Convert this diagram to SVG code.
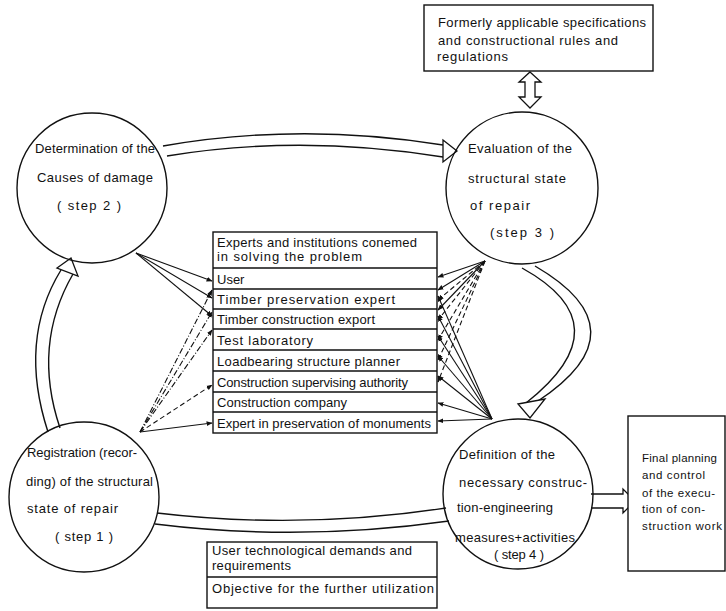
<svg xmlns="http://www.w3.org/2000/svg" width="726" height="611" viewBox="0 0 726 611">
<defs>
<style>
text{font-family:"Liberation Sans",Arial,sans-serif;font-size:13px;fill:#111}
.sm{font-size:11.5px}
.node{fill:none;stroke:#111;stroke-width:1.4}
.box{fill:#fff;stroke:#111;stroke-width:1.4}
.band{fill:none;stroke:#111;stroke-width:1.4}
.head{fill:#fff;stroke:#111;stroke-width:1.3;stroke-linejoin:miter}
.c{fill:none;stroke:#111;stroke-width:1.1}
.dash{stroke-dasharray:5 3}
.dd{stroke-dasharray:6 2 1 2}
</style>
<marker id="ah" viewBox="0 0 10 10" refX="9" refY="5" markerWidth="6" markerHeight="6" orient="auto" markerUnits="userSpaceOnUse">
<path d="M0,1 L10,5 L0,9 Z" fill="#111"/>
</marker>
</defs>
<rect width="726" height="611" fill="#fff"/>

<g id="connectors">
<!-- step2 -> step3 wide arrow -->
<path class="band" d="M163,146 Q300,122 443,145"/>
<path class="band" d="M167,156 Q300,134 443,157"/>
<polygon class="head" points="443,140 457,151 443,162"/>
<!-- step1 -> step2 wide arrow -->
<path class="band" d="M48,432 Q18,340 61,270"/>
<path class="band" d="M60,428 Q32,345 73,274"/>
<polygon class="head" points="57,268 71,258 78,276"/>
<!-- step3 -> step4 wide arrow -->
<path class="band" d="M522,268 Q625,325 526,403"/>
<path class="band" d="M535,266 Q645,330 538,401"/>
<polygon class="head" points="518,404 545,399 530,418"/>
<!-- step1 - step4 bottom band -->
<path class="band" d="M157,513 Q300,530 446,508"/>
<path class="band" d="M155,524 Q300,542 449,521"/>
<!-- step4 -> final planning -->
<path class="head" d="M591,494 L623,494 L623,489 L635,501 L623,513 L623,508 L591,508"/>
<!-- double arrow top box <-> step3 -->
<path class="head" d="M530,72 L541,82 L535,82 L535,97 L541,97 L530,108 L519,97 L525,97 L525,82 L519,82 Z"/>

<!-- step2 -> table -->
<g class="c" marker-end="url(#ah)">
<path d="M136,253 L212,281"/>
<path d="M136,253 L212,298"/>
<path d="M136,253 L212,316"/>
</g>
<!-- step1 -> table -->
<g class="c" marker-end="url(#ah)">
<path class="dd" d="M140,432 L212,290"/>
<path class="dd" d="M140,432 L212,312"/>
<path class="dd" d="M140,432 L212,330"/>
<path class="dash" d="M140,432 L212,385"/>
<path d="M140,432 L212,423"/>
</g>
<!-- step3 -> table -->
<g class="c" marker-end="url(#ah)">
<path d="M485,261 L438,277"/>
<path d="M485,261 L438,290"/>
<path d="M485,261 L438,310"/>
<path class="dash" d="M485,261 L438,300"/>
<path class="dash" d="M485,261 L438,320"/>
<path class="dash" d="M485,261 L438,340"/>
<path class="dash" d="M485,261 L438,360"/>
<path class="dash" d="M485,261 L438,382"/>
</g>
<!-- step4 -> table -->
<g class="c" marker-end="url(#ah)">
<path d="M492,419 L438,296"/>
<path d="M492,419 L438,316"/>
<path d="M492,419 L438,336"/>
<path d="M492,419 L438,356"/>
<path d="M492,419 L438,376"/>
<path d="M492,419 L438,403"/>
<path d="M492,419 L438,421"/>
</g>
</g>

<g id="top-box">
<rect class="box" x="424" y="5" width="229" height="66"/>
<text x="438" y="27" textLength="208">Formerly applicable specifications</text>
<text x="438" y="45" textLength="180">and constructional rules and</text>
<text x="437" y="61" textLength="71">regulations</text>
</g>

<g id="step2">
<circle class="node" cx="92" cy="188" r="75"/>
<text x="35" y="153" textLength="120">Determination of the</text>
<text x="37" y="182" textLength="116">Causes of damage</text>
<text x="57" y="210" textLength="64">( step 2 )</text>
</g>

<g id="step3">
<circle class="node" cx="522" cy="188" r="76"/>
<text x="468" y="153" textLength="104">Evaluation of the</text>
<text x="468" y="183" textLength="98">structural state</text>
<text x="470" y="210" textLength="60">of repair</text>
<text x="490" y="237" textLength="64">(step 3 )</text>
</g>

<g id="step1">
<circle class="node" cx="84" cy="497" r="75"/>
<text x="27" y="457" textLength="110">Registration (recor-</text>
<text x="26" y="486" textLength="127">ding) of the structural</text>
<text x="27" y="513" textLength="91">state of repair</text>
<text x="55" y="541" textLength="58">( step 1 )</text>
</g>

<g id="step4">
<circle class="node" cx="518" cy="494" r="75"/>
<text x="459" y="459" textLength="96">Definition of the</text>
<text x="459" y="487" textLength="128">necessary construc-</text>
<text x="457" y="512" textLength="96">tion-engineering</text>
<text x="455" y="542" textLength="120">measures+activities</text>
<text x="494" y="559" textLength="50">( step 4 )</text>
</g>

<g id="experts-table">
<rect class="box" x="213" y="232" width="224" height="201"/>
<path class="c" d="M213,268 H437 M213,289 H437 M213,309 H437 M213,329 H437 M213,350 H437 M213,371 H437 M213,392 H437 M213,412 H437" style="stroke-width:1.3"/>
<text x="217" y="247" textLength="200">Experts and institutions conemed</text>
<text x="217" y="261" textLength="145">in solving the problem</text>
<text x="217" y="284">User</text>
<text x="217" y="304" textLength="178">Timber preservation expert</text>
<text x="217" y="324" textLength="158">Timber construction export</text>
<text x="217" y="345" textLength="96">Test  laboratory</text>
<text x="217" y="366" textLength="183">Loadbearing structure planner</text>
<text x="217" y="387" textLength="191">Construction supervising authority</text>
<text x="217" y="407" textLength="130">Construction company</text>
<text x="217" y="428" textLength="214">Expert in preservation of monuments</text>
</g>

<g id="final-planning">
<rect class="box" x="628" y="416" width="97" height="155"/>
<text class="sm" x="642" y="462" textLength="75">Final planning</text>
<text class="sm" x="642" y="479" textLength="63">and control</text>
<text class="sm" x="642" y="497" textLength="73">of the execu-</text>
<text class="sm" x="642" y="513" textLength="63">tion of con-</text>
<text class="sm" x="642" y="530" textLength="80">struction work</text>
</g>

<g id="user-demands">
<rect class="box" x="207" y="542" width="230" height="66"/>
<path class="c" d="M207,577 H437" style="stroke-width:1.3"/>
<text x="212" y="555" textLength="200">User technological demands and</text>
<text x="212" y="570" textLength="79">requirements</text>
<text x="212" y="593" textLength="222">Objective for the further utilization</text>
</g>
</svg>
